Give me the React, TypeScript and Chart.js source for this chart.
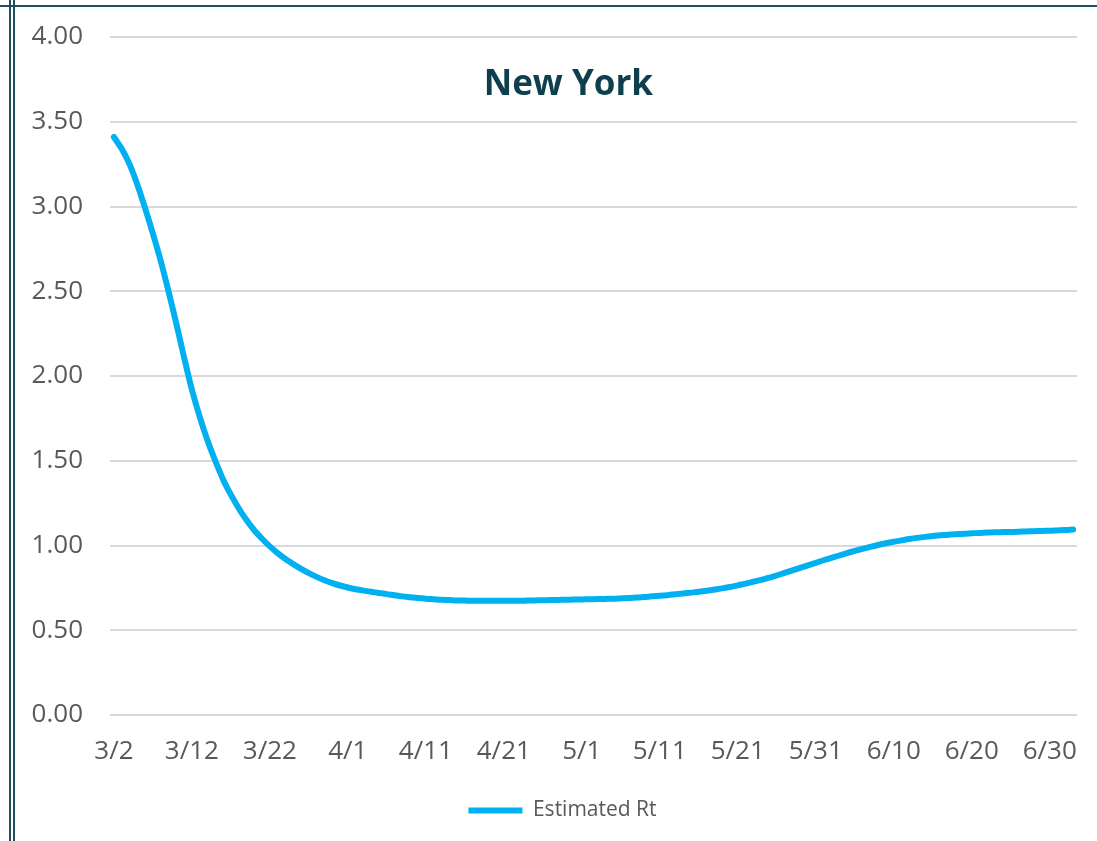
import React, { useEffect, useRef } from "react";
import { Chart, registerables } from "chart.js";

Chart.register(...registerables);

// Dates from 3/2 through 7/3 (daily)
const monthDays: [number, number, number][] = [
  [3, 2, 31],
  [4, 1, 30],
  [5, 1, 31],
  [6, 1, 30],
  [7, 1, 3],
];
const dates: string[] = [];
for (const [m, s, e] of monthDays) {
  for (let d = s; d <= e; d++) dates.push(`${m}/${d}`);
}

const rtValues: number[] = [
  3.41, 3.34, 3.25, 3.13, 2.99, 2.84, 2.68, 2.5, 2.31, 2.11,
  1.92, 1.76, 1.62, 1.5, 1.39, 1.3, 1.22, 1.15, 1.09, 1.04,
  0.995, 0.955, 0.92, 0.89, 0.862, 0.837, 0.815, 0.795, 0.778, 0.764,
  0.752, 0.742, 0.734, 0.727, 0.72, 0.713, 0.707, 0.7, 0.695, 0.69,
  0.686, 0.683, 0.68, 0.678, 0.676, 0.675, 0.674, 0.674, 0.674, 0.674,
  0.674, 0.674, 0.674, 0.675, 0.676, 0.677, 0.678, 0.679, 0.68, 0.681,
  0.682, 0.683, 0.684, 0.685, 0.686, 0.688, 0.69, 0.693, 0.696, 0.7,
  0.703, 0.707, 0.712, 0.717, 0.722, 0.727, 0.733, 0.74, 0.747, 0.755,
  0.765, 0.775, 0.786, 0.797, 0.81, 0.823, 0.838, 0.853, 0.868, 0.883,
  0.898, 0.913, 0.927, 0.941, 0.955, 0.968, 0.98, 0.992, 1.003, 1.013,
  1.022, 1.03, 1.038, 1.045, 1.051, 1.056, 1.06, 1.064, 1.067, 1.07,
  1.072, 1.074, 1.076, 1.078, 1.079, 1.08, 1.081, 1.083, 1.084, 1.086,
  1.087, 1.089, 1.091, 1.094,
];

const chartTitle = "New York";
const seriesName = "Estimated Rt";

const FONT = "'Open Sans', 'DejaVu Sans', sans-serif";

const framePlugin = {
  id: "frameAndTitle",
  afterLayout(chart: any) {
    if (chart.legend) {
      chart.legend.left += 20;
      chart.legend.right += 20;
    }
  },
  afterDraw(chart: any) {
    const ctx = chart.ctx;
    const area = chart.chartArea;
    ctx.save();
    // title inside plot area
    ctx.font = `bold 35px ${FONT}`;
    ctx.fillStyle = "#0E3F4F";
    ctx.textAlign = "center";
    ctx.textBaseline = "middle";
    ctx.fillText(chartTitle, area.left + (area.right - area.left) * 0.474, 85);
    // frame lines
    ctx.strokeStyle = "#1F4E5C";
    ctx.lineWidth = 2;
    ctx.beginPath();
    ctx.moveTo(0, 6);
    ctx.lineTo(chart.width, 6);
    ctx.moveTo(10, 0);
    ctx.lineTo(10, chart.height);
    ctx.moveTo(14, 0);
    ctx.lineTo(14, chart.height);
    ctx.stroke();
    ctx.restore();
  },
};

export default function App() {
  const ref = useRef<HTMLCanvasElement | null>(null);

  useEffect(() => {
    document.body.style.margin = "0";
    if (!ref.current) return;
    const chart = new Chart(ref.current, {
      type: "line",
      data: {
        labels: dates,
        datasets: [
          {
            label: seriesName,
            data: rtValues,
            borderColor: "#00B0F0",
            backgroundColor: "#00B0F0",
            borderWidth: 6,
            borderCapStyle: "round",
            borderJoinStyle: "round",
            pointRadius: 0,
            tension: 0.3,
            fill: false,
          },
        ],
      },
      options: {
        responsive: false,
        animation: false,
        layout: { padding: { top: 37, right: 20, left: 8, bottom: 10 } },
        plugins: {
          title: { display: false },
          tooltip: { enabled: false },
          legend: {
            position: "bottom",
            labels: {
              usePointStyle: true,
              pointStyle: "line",
              pointStyleWidth: 54,
              boxHeight: 6,
              color: "#595959",
              font: { family: FONT, size: 21 },
              padding: 9,
            },
          },
        },
        scales: {
          x: {
            type: "category",
            offset: true,
            grid: { display: false, drawTicks: false },
            border: { display: false },
            afterFit: (s: any) => {
              s.height = 76;
            },
            ticks: {
              autoSkip: false,
              maxRotation: 0,
              minRotation: 0,
              padding: 21,
              color: "#595959",
              font: { family: FONT, size: 26 },
              callback: (_v: any, i: number) => (i % 10 === 0 ? dates[i] : ""),
            },
          },
          y: {
            min: 0,
            max: 4,
            grid: { color: "#D9D9D9", lineWidth: 2, drawTicks: false },
            border: { display: false },
            afterFit: (s: any) => {
              s.width = 102;
            },
            ticks: {
              stepSize: 0.5,
              padding: 27,
              color: "#595959",
              font: { family: FONT, size: 26, lineHeight: 0.75 },
              callback: (v: any) => Number(v).toFixed(2),
            },
          },
        },
      },
      plugins: [framePlugin],
    });
    return () => chart.destroy();
  }, []);

  return (
    <div style={{ position: "fixed", left: 0, top: 0, width: 1097, height: 841, background: "#fff" }}>
      <canvas ref={ref} width={1097} height={841} style={{ display: "block" }} />
    </div>
  );
}
